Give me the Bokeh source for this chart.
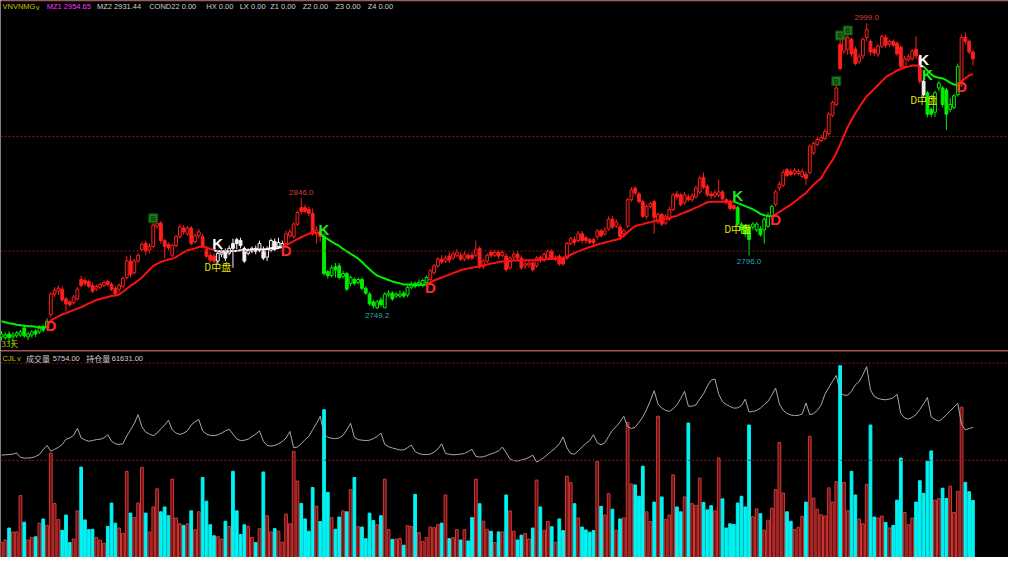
from bokeh.plotting import figure
from bokeh.layouts import column
from bokeh.models import Range1d, Span, ColumnDataSource
from bokeh.embed import file_html
from bokeh.resources import INLINE
from bokeh.core.properties import value

# ---------------- data ----------------
open_prices = [2724.9,2724.1,2727.5,2724.9,2725.8,2726.6,2732.6,2724.9,2726.6,2730.0,
2729.2,2733.4,2733.4,2744.5,2762.3,2764.9,2766.6,2758.1,2755.5,2754.7,
2758.1,2775.1,2774.2,2773.4,2769.9,2766.6,2768.3,2769.9,2773.4,2770.8,
2767.4,2766.6,2769.1,2776.8,2791.2,2781.0,2791.2,2801.4,2806.5,2800.6,
2804.0,2821.8,2824.4,2809.1,2805.7,2796.3,2804.8,2812.5,2820.1,2815.0,
2820.1,2808.2,2813.3,2812.5,2801.4,2796.3,2795.5,2791.2,2797.2,2799.7,
2798.0,2806.5,2809.9,2809.1,2802.3,2798.0,2799.7,2802.3,2800.6,2800.6,
2794.6,2800.6,2808.2,2804.0,2804.0,2806.5,2813.3,2812.5,2823.5,2837.9,
2837.9,2836.3,2832.9,2815.0,2816.7,2812.5,2781.9,2778.5,2786.1,2787.0,
2777.6,2780.2,2771.7,2775.1,2772.5,2775.1,2767.4,2762.3,2755.5,2750.4,
2757.2,2750.4,2761.5,2763.2,2760.6,2760.6,2763.2,2761.5,2768.3,2771.7,
2769.9,2769.9,2772.5,2775.1,2781.0,2787.0,2792.9,2791.2,2795.5,2793.8,
2796.3,2796.3,2792.9,2796.3,2796.3,2796.3,2802.3,2786.1,2791.2,2798.9,
2796.3,2798.9,2796.3,2795.5,2785.3,2794.6,2797.2,2793.8,2787.0,2787.8,
2789.5,2787.0,2794.6,2792.0,2793.8,2799.7,2792.9,2795.5,2793.8,2793.8,
2806.5,2809.9,2809.1,2815.0,2811.6,2809.9,2809.9,2812.5,2817.6,2815.0,
2819.3,2827.8,2821.8,2821.0,2815.0,2821.8,2844.8,2855.0,2849.9,2843.1,
2830.3,2838.8,2843.1,2825.2,2832.0,2824.4,2827.8,2836.3,2849.9,2849.0,
2842.2,2847.3,2844.8,2847.3,2851.6,2864.3,2856.7,2849.9,2848.2,2849.0,
2851.6,2844.8,2843.1,2839.7,2837.9,2823.5,2821.8,2821.0,2821.0,2818.4,
2819.3,2818.4,2821.8,2830.3,2840.5,2855.0,2857.5,2871.1,2869.4,2867.7,
2867.7,2865.2,2866.9,2868.6,2885.6,2893.2,2896.6,2898.3,2902.6,2918.7,
2928.1,2980.8,2974.8,2976.5,2985.0,2976.5,2965.5,2970.6,2986.7,2983.3,
2976.5,2972.3,2979.1,2986.7,2980.8,2983.3,2981.6,2978.2,2961.2,2967.2,
2968.0,2976.5,2969.7,2948.5,2938.3,2923.8,2921.3,2942.5,2942.5,2940.8,
2923.8,2925.5,2936.6,2945.1,2986.7,2983.3,2974.0]

high_prices = [2730.0,2729.2,2730.0,2729.2,2730.0,2730.9,2734.3,2729.2,2730.9,2731.7,
2735.1,2735.1,2741.1,2764.0,2768.3,2769.9,2769.1,2759.8,2757.2,2761.5,
2768.3,2778.5,2776.8,2775.1,2772.5,2770.8,2772.5,2774.2,2775.1,2772.5,
2769.1,2771.7,2777.6,2795.5,2796.3,2792.9,2798.0,2808.2,2809.1,2806.5,
2825.2,2826.9,2826.1,2810.8,2807.4,2806.5,2814.2,2823.5,2822.7,2821.8,
2821.8,2815.0,2819.3,2815.0,2804.0,2798.9,2798.0,2800.6,2801.4,2802.3,
2804.8,2810.8,2811.6,2811.6,2804.0,2802.3,2804.0,2804.8,2809.1,2804.0,
2804.0,2810.8,2810.8,2811.6,2809.1,2817.6,2819.3,2825.2,2835.4,2846.0,
2840.5,2838.8,2837.1,2821.8,2819.3,2815.0,2783.6,2787.8,2789.5,2789.5,
2782.7,2781.9,2778.5,2776.8,2776.8,2776.8,2769.1,2764.0,2757.2,2757.2,
2759.8,2764.0,2765.7,2764.9,2764.0,2765.7,2764.9,2769.9,2773.4,2773.4,
2775.1,2775.9,2778.5,2784.4,2788.7,2794.6,2796.3,2796.3,2798.9,2799.7,
2801.4,2798.9,2799.7,2798.0,2798.9,2809.1,2804.0,2792.9,2798.0,2800.6,
2801.4,2800.6,2800.6,2798.0,2795.5,2798.9,2799.7,2796.3,2791.2,2792.0,
2791.2,2795.5,2796.3,2798.9,2801.4,2801.4,2796.3,2797.2,2795.5,2808.2,
2812.5,2812.5,2817.6,2817.6,2813.3,2811.6,2811.6,2819.3,2819.3,2821.0,
2830.3,2830.3,2827.8,2823.5,2819.3,2846.5,2855.8,2856.7,2851.6,2844.8,
2840.5,2843.1,2844.8,2833.7,2833.7,2832.0,2838.8,2850.7,2852.4,2850.7,
2851.6,2849.9,2850.7,2857.5,2866.0,2868.6,2858.4,2852.4,2853.3,2862.6,
2853.3,2846.5,2844.8,2841.4,2839.7,2825.2,2823.5,2823.5,2825.2,2825.2,
2821.8,2829.5,2833.7,2840.5,2853.3,2860.9,2871.1,2872.8,2872.0,2872.8,
2872.0,2872.0,2869.4,2893.2,2895.8,2900.0,2901.7,2906.8,2921.3,2931.5,
2945.1,2985.0,2989.3,2989.3,2986.7,2979.1,2972.3,2986.7,2999.0,2985.0,
2978.2,2980.8,2989.3,2989.3,2985.0,2985.0,2983.3,2979.9,2970.6,2972.3,
2976.5,2987.6,2971.4,2950.2,2940.0,2925.5,2940.0,2948.5,2944.2,2942.5,
2934.0,2937.4,2963.8,2989.3,2991.0,2985.0,2975.7]

low_prices = [2721.5,2722.4,2719.8,2717.3,2724.1,2724.9,2724.1,2722.4,2724.1,2724.9,
2727.5,2729.2,2731.7,2741.9,2759.8,2761.5,2755.5,2747.0,2751.3,2753.0,
2756.4,2768.3,2769.1,2767.4,2763.2,2764.9,2766.6,2768.3,2769.1,2764.9,
2760.6,2764.0,2767.4,2775.1,2776.8,2779.3,2789.5,2798.9,2796.3,2798.0,
2802.3,2819.3,2806.5,2793.8,2800.6,2794.6,2803.1,2810.8,2814.2,2813.3,
2804.8,2806.5,2810.8,2802.3,2793.8,2789.5,2788.7,2788.7,2794.6,2791.2,
2796.3,2785.3,2801.4,2802.3,2789.5,2796.3,2798.0,2797.2,2798.9,2792.0,
2791.2,2798.9,2799.7,2802.3,2802.3,2804.8,2811.6,2810.8,2821.8,2832.0,
2832.9,2830.3,2813.3,2806.5,2808.2,2778.5,2775.9,2776.8,2776.8,2775.1,
2775.9,2764.9,2769.1,2769.9,2770.8,2765.7,2761.5,2752.1,2749.6,2749.2,
2751.3,2750.0,2759.8,2756.4,2758.9,2758.9,2758.9,2759.8,2766.6,2767.4,
2768.3,2768.3,2770.8,2773.4,2779.3,2785.3,2788.7,2789.5,2789.5,2792.0,
2794.6,2791.2,2791.2,2792.0,2792.0,2794.6,2784.4,2784.4,2789.5,2793.8,
2794.6,2792.9,2794.6,2781.9,2783.6,2792.0,2792.0,2783.6,2784.4,2785.3,
2781.9,2785.3,2789.5,2790.4,2792.0,2792.0,2791.2,2787.0,2787.0,2792.0,
2804.8,2804.8,2807.4,2806.5,2806.5,2805.7,2804.8,2809.9,2811.6,2813.3,
2817.6,2819.3,2820.1,2809.9,2811.6,2820.1,2843.1,2849.0,2841.4,2828.6,
2827.8,2837.1,2815.0,2823.5,2821.8,2822.7,2826.1,2834.6,2844.8,2838.8,
2840.5,2843.1,2843.1,2845.6,2849.9,2854.1,2847.3,2845.6,2846.5,2847.3,
2843.9,2840.5,2835.4,2835.4,2821.8,2815.0,2812.5,2796.0,2818.4,2816.7,
2812.5,2806.5,2820.1,2828.6,2838.8,2852.4,2855.8,2864.3,2865.2,2866.0,
2866.0,2863.5,2857.5,2866.9,2883.9,2891.5,2894.9,2896.6,2900.9,2917.0,
2926.4,2957.8,2972.3,2971.4,2969.7,2962.1,2963.8,2968.0,2983.3,2971.4,
2970.6,2969.7,2977.4,2977.4,2978.2,2978.2,2970.6,2959.5,2959.5,2965.5,
2966.3,2968.0,2945.9,2934.9,2917.0,2917.0,2917.0,2940.0,2925.5,2905.9,
2921.3,2923.8,2934.9,2943.4,2980.8,2972.3,2962.1]

close_prices = [2727.5,2726.6,2724.1,2726.6,2728.3,2729.2,2725.8,2727.5,2729.2,2727.5,
2732.6,2730.9,2738.5,2762.3,2765.7,2767.4,2757.2,2753.8,2753.0,2759.8,
2766.6,2769.9,2771.7,2769.1,2764.9,2769.1,2770.8,2772.5,2770.8,2766.6,
2762.3,2769.9,2775.9,2791.2,2779.3,2791.2,2796.3,2805.7,2799.7,2804.0,
2822.7,2824.4,2809.1,2804.0,2803.1,2804.8,2812.5,2821.0,2816.7,2820.1,
2806.5,2813.3,2816.7,2804.0,2795.5,2792.0,2791.2,2798.0,2798.9,2793.8,
2802.3,2802.3,2806.5,2804.8,2791.2,2800.6,2802.3,2799.7,2806.5,2793.8,
2801.4,2809.1,2801.4,2807.4,2806.5,2815.0,2816.7,2823.5,2833.7,2834.6,
2834.6,2832.9,2815.0,2818.4,2812.5,2780.2,2778.5,2785.3,2783.6,2776.8,
2780.2,2766.6,2776.8,2771.7,2775.1,2767.4,2763.2,2753.8,2752.1,2755.5,
2753.0,2762.3,2763.2,2758.1,2762.3,2762.3,2760.6,2768.3,2770.8,2769.1,
2772.5,2774.2,2776.8,2782.7,2787.0,2792.9,2790.4,2793.8,2792.0,2797.2,
2798.9,2792.9,2797.2,2793.8,2793.8,2801.4,2786.1,2791.2,2796.3,2796.3,
2798.9,2795.5,2798.9,2783.6,2793.8,2797.2,2793.8,2785.3,2788.7,2789.5,
2783.6,2793.8,2792.0,2797.2,2799.7,2793.8,2794.6,2788.7,2788.7,2806.5,
2810.8,2807.4,2815.0,2809.1,2809.1,2807.4,2807.4,2817.6,2813.3,2817.6,
2827.8,2821.0,2825.2,2812.5,2817.6,2844.8,2853.3,2850.7,2843.1,2830.3,
2838.8,2841.4,2829.5,2832.0,2823.5,2830.3,2836.3,2849.0,2847.3,2840.5,
2849.0,2844.8,2848.2,2855.0,2863.5,2855.8,2849.0,2848.2,2850.7,2851.6,
2845.6,2842.2,2837.1,2837.1,2823.5,2818.4,2815.0,2809.9,2823.5,2823.5,
2814.2,2827.8,2830.3,2838.8,2851.6,2858.4,2868.6,2866.0,2866.9,2870.3,
2869.4,2869.4,2863.5,2891.5,2894.1,2897.5,2899.2,2904.3,2919.6,2929.8,
2942.5,2959.5,2987.6,2986.7,2972.3,2963.8,2969.7,2985.0,2993.5,2974.0,
2973.1,2979.1,2987.6,2979.9,2983.3,2979.9,2972.3,2961.2,2968.0,2969.7,
2974.8,2970.6,2948.5,2936.6,2919.6,2919.6,2938.3,2946.8,2928.1,2919.6,
2928.1,2935.7,2961.2,2986.7,2983.3,2974.0,2968.0]

ma_line = [2738.5,2737.7,2736.8,2736.4,2735.5,2735.1,2734.7,2734.3,2734.3,2733.8,
2733.4,2733.4,2733.4,2739.4,2741.1,2742.8,2744.5,2745.7,2747.0,2748.3,
2749.6,2750.8,2752.5,2754.2,2755.5,2757.2,2758.1,2758.9,2759.8,2760.6,
2761.0,2761.9,2764.4,2767.0,2769.5,2771.7,2774.2,2776.8,2780.2,2783.6,
2787.0,2788.7,2790.4,2791.6,2792.5,2793.3,2794.6,2796.7,2798.9,2800.6,
2801.4,2802.3,2803.5,2804.0,2803.1,2801.8,2800.6,2799.7,2799.7,2799.7,
2799.7,2800.1,2800.1,2800.6,2800.6,2800.6,2801.0,2801.0,2801.4,2801.4,
2801.8,2802.3,2802.3,2802.7,2803.5,2805.2,2806.9,2808.6,2810.3,2812.0,
2813.7,2815.0,2815.9,2815.9,2815.0,2812.5,2810.3,2808.2,2806.1,2804.4,
2801.8,2799.7,2797.6,2795.5,2793.3,2790.4,2787.0,2784.0,2781.0,2778.5,
2777.2,2775.9,2774.6,2773.4,2772.5,2771.7,2770.8,2770.8,2770.4,2770.4,
2770.4,2770.4,2770.8,2772.5,2774.2,2775.5,2776.8,2778.0,2779.3,2780.6,
2781.9,2783.1,2784.0,2784.8,2785.3,2786.1,2786.5,2787.4,2788.2,2789.1,
2789.5,2790.4,2790.8,2791.2,2791.2,2791.6,2791.6,2791.6,2792.0,2792.0,
2792.0,2792.0,2792.5,2792.5,2792.9,2792.9,2793.3,2793.3,2793.8,2795.0,
2796.7,2798.4,2799.7,2801.0,2802.3,2803.5,2804.4,2805.7,2806.5,2807.4,
2808.2,2809.1,2809.9,2810.8,2813.3,2816.3,2819.3,2821.8,2822.7,2823.5,
2824.4,2825.2,2826.1,2826.9,2827.8,2828.2,2829.0,2829.9,2830.7,2832.4,
2833.7,2835.0,2836.3,2837.9,2839.2,2840.9,2842.6,2843.1,2843.1,2843.1,
2843.1,2843.1,2843.1,2843.1,2841.8,2840.5,2839.2,2837.9,2836.3,2834.6,
2832.4,2831.2,2830.7,2830.3,2832.0,2834.1,2836.3,2838.4,2840.5,2843.1,
2845.6,2848.2,2850.7,2854.5,2857.9,2860.9,2863.5,2869.4,2874.5,2879.6,
2885.6,2893.2,2900.9,2908.5,2914.5,2920.4,2925.5,2930.6,2935.3,2938.3,
2941.7,2945.1,2948.5,2951.9,2954.0,2955.7,2957.8,2959.1,2960.4,2961.2,
2962.1,2962.1,2962.1,2961.2,2957.8,2954.4,2952.3,2951.4,2951.0,2949.3,
2947.2,2945.5,2945.1,2948.5,2951.0,2953.5,2954.65]

volume = [1537,1766,2976,2583,2583,6246,3564,1766,2027,2093,
3466,3891,3237,10529,5461,3826,2747,4284,1504,1864,
4709,9123,3793,2812,2845,2027,1766,1439,3139,5494,
3466,2976,2420,8698,4480,4022,5494,9091,4480,2583,
5101,6932,4611,5101,4218,7913,3989,3401,3237,3401,
4709,2812,4611,8077,5690,3303,2191,2093,1864,3662,
3139,8698,4709,2322,3303,3139,2027,1504,2910,8633,
4218,2583,2910,2649,1537,4382,3401,10693,7717,5461,
3891,2649,7063,5167,3630,14911,6573,4022,2845,4088,
4709,4611,6834,8077,3107,3074,1897,4480,3728,3303,
4218,7913,2812,1831,1864,1929,1243,3205,3139,6377,
2518,1602,2027,3074,3008,3303,3466,6311,1897,1995,
2812,1766,2812,1668,4022,7913,5428,3662,2845,2649,
1504,2583,2583,
6311,4709,2649,1766,2256,2420,1864,2976,7815,5101,
2747,3630,3107,1537,3891,2714,8208,7554,5428,3989,
3074,2780,2551,2714,9679,5167,4284,6442,4872,2747,
3891,3989,13636,7423,7325,6180,9221,4611,3630,5592,
14257,6115,3826,4284,8339,5101,4611,6115,13571,5428,
5265,8012,5559,4807,5232,4709,10039,5919,2976,3401,
3335,5494,6180,5101,13374,4120,4905,4415,2747,3761,
4970,6867,11609,6507,4611,3662,2812,3041,4153,5592,
12230,5984,4872,4316,4186,7031,5592,7652,19358,7586,
4709,8698,6311,3891,3401,7390,13374,4088,3989,4186,
3532,2976,3237,5788,10039,4545,3303,3989,5592,7750,
6475,9712,10758,5788,5951,6998,5951,7194,4545,6671,
15173,7586,6638,5754]

open_interest = [59051,59081,59111,59141,59261,58841,58781,58781,58811,58931,
59111,59561,59951,59411,59591,59771,60041,60521,60641,60881,
61541,60641,60461,60341,60401,60491,60521,60641,60941,60341,
60101,60041,60101,60821,61391,61991,62801,61691,61181,61001,
60851,61091,61481,61841,62291,61391,61091,60971,61091,61301,
61841,62141,62351,61301,61001,60881,60851,60941,61091,61301,
61451,61001,60551,60401,60431,60521,60761,61001,61301,60341,
59951,59891,59951,60101,60311,60641,61241,59741,59801,60101,
60491,60791,61391,61991,62651,61001,60701,60611,60581,60641,
60881,61391,61991,60701,60491,60431,60401,60431,60581,60791,
61091,60041,59831,59711,59621,59531,59531,59741,59981,59381,
59201,59111,59111,59141,59321,59621,60101,59201,59141,59081,
59111,59141,59201,59381,59591,58931,58871,58901,59021,59171,
59291,59441,59801,59291,58691,58541,58511,58601,58691,58841,
59051,58421,58601,58841,59141,59441,59711,60101,60731,59741,
59201,59141,59441,59801,60131,60401,60941,60191,60011,60191,
60791,61361,61691,62141,62651,61691,61511,61631,62081,62591,
63281,64091,65021,63791,63401,63191,63101,63341,63701,64301,
64961,63581,63581,63701,64241,64721,65441,65981,66101,64691,
64001,63731,63551,63401,63431,63641,64241,63041,63101,63191,
63401,63731,64031,64601,65261,63791,63191,62921,62771,62711,
62741,62861,63881,62801,62891,63191,63701,64691,65291,65891,
66431,64841,64601,64601,64961,65561,65861,66491,67241,65081,
64481,64301,64211,64181,64241,64361,64691,62891,62501,62381,
62561,62801,63281,63791,64391,62591,62351,62201,62441,62801,
63161,63491,63851,61901,61391,61511,61631]

# signals of the indicator (bar index, label, regime colour that follows)
signal_idx = [13, 57, 75, 85, 113, 194, 204, 243, 244, 253]
signal_txt = ["D", "K", "D", "K", "D", "K", "D", "K", "K", "D"]
signal_reg = ["red", "white", "red", "green", "red", "green", "red", "white", "green", "red"]
midplate_idx = [57, 194, 243]            # "D中盘" notes
extreme_idx = [79, 99, 197, 228]
extreme_kind = ["high", "low", "low", "high"]
badge_idx = [40, 220, 221, 223]

header_items = [("VNVNMG", "#c4c400"), ("MZ1 2954.65", "#ff30ff"),
                ("MZ2 2931.44", "#d0d0d0"), ("COND22 0.00", "#d0d0d0"),
                ("HX 0.00", "#d0d0d0"), ("LX 0.00", "#d0d0d0"),
                ("Z1 0.00", "#d0d0d0"), ("Z2 0.00", "#d0d0d0"),
                ("Z3 0.00", "#d0d0d0"), ("Z4 0.00", "#d0d0d0")]
header_px = [2, 47, 98, 151, 209, 243, 274, 307, 340, 373]

# ---------------- layout helpers (reference pixel -> data) ----------------
W, H_MAIN, H_VOL = 1008, 350, 207
BAR_PX = 3.855
X0 = -1.0 / BAR_PX
def X(px):
    return px / BAR_PX + X0
def PY(py):                       # main panel, reference pixel y -> price
    return 3019.0 - 0.85 * py
def VY(py):                       # volume panel, reference pixel y -> volume
    return (573 - py) * 98.1

N = len(close_prices)
xs = list(range(N))
REG = {"red": "#ff1e1e", "green": "#00ee00", "white": "#f4f4f4"}
MA_COL = {"red": "#ff1010", "green": "#00f000", "white": "#ffffff"}

regime = []
cur = "green"
sigmap = dict(zip(signal_idx, signal_reg))
for i in range(N):
    if i in sigmap:
        cur = sigmap[i]
    regime.append(cur)

xr = Range1d(X0, 1024 / BAR_PX + X0)

# ---------------- main (price) panel ----------------
p = figure(width=W, height=H_MAIN, x_range=xr, y_range=Range1d(PY(360), PY(0)),
           output_backend="svg", toolbar_location=None, x_axis_location=None, y_axis_location=None,
           background_fill_color="black", border_fill_color="black", min_border=0,
           outline_line_color=None)
p.grid.visible = False

for lvl in (2900, 2800):
    p.add_layout(Span(location=lvl, dimension="width", line_color="#8a1a1a",
                      line_dash="2 2", line_width=1))
p.add_layout(Span(location=PY(0.6), dimension="width", line_color="#7a1818", line_width=1))

cols = [REG[r] for r in regime]
up = [c >= o for o, c in zip(open_prices, close_prices)]
cs = ColumnDataSource(dict(
    x=xs, hi=high_prices, lo=low_prices,
    top=[max(o, c) for o, c in zip(open_prices, close_prices)],
    bot=[min(o, c) for o, c in zip(open_prices, close_prices)],
    col=cols, fill=["#000000" if u else c for u, c in zip(up, cols)]))
p.segment(x0="x", y0="lo", x1="x", y1="hi", line_color="col", line_width=1, source=cs)
p.vbar(x="x", width=0.74, top="top", bottom="bot", fill_color="fill", line_color="col",
       line_width=1, source=cs)

# moving line, coloured by regime
seg_x, seg_y, seg_c = [], [], []
start = 0
for i in range(1, N + 1):
    if i == N or regime[i] != regime[start]:
        s = start - 1 if start > 0 else start
        seg_x.append(xs[s:i])
        seg_y.append(ma_line[s:i])
        seg_c.append(MA_COL[regime[start]])
        start = i
p.multi_line(xs=seg_x, ys=seg_y, line_color=seg_c, line_width=2)

# badges
bx = [i for i in badge_idx]
by = [high_prices[i] + 3.4 for i in badge_idx]
p.scatter(bx, by, marker="square", size=9, fill_color="#1f7a1f", line_color="#0e4a0e")
p.text(bx, by, text=["B"] * len(bx), text_font=value("Liberation Sans"), text_font_size="7px",
       text_font_style="bold", text_color="#0b3a0b", text_align="center", text_baseline="middle")

# K / D signal labels
ly, lc = [], []
for k, i in enumerate(signal_idx):
    if signal_txt[k] == "D":
        ly.append(ma_line[i] - 4.5)
        lc.append("#ff2a2a")
    else:
        if k > 0 and signal_idx[k - 1] == i - 1 and signal_txt[k - 1] == "K":
            ly.append(ma_line[i] - 3.5)
        else:
            ly.append(ma_line[i] + 6.5)
        lc.append("#ffffff" if signal_reg[k] == "white" else "#22e822")
p.text(signal_idx, ly, text=signal_txt, text_color=lc, text_font=value("Liberation Sans"),
       text_font_size="15px", text_font_style="bold", text_align="center", text_baseline="middle")

# D中盘 notes
p.text(midplate_idx, [low_prices[i] - 2.5 for i in midplate_idx], text=["D中盘"] * len(midplate_idx),
       text_color="#e6e600", text_font=value("Noto Sans CJK SC"), text_font_size="10px",
       text_align="center", text_baseline="middle")

# extreme price labels
ex_y, ex_t, ex_c = [], [], []
for i, kind in zip(extreme_idx, extreme_kind):
    if kind == "high":
        ex_y.append(high_prices[i] + 5.5); ex_t.append(f"{high_prices[i]:.1f}"); ex_c.append("#d43c3c")
    else:
        ex_y.append(low_prices[i] - 5.5); ex_t.append(f"{low_prices[i]:.1f}"); ex_c.append("#2aa8b8")
p.text(extreme_idx, ex_y, text=ex_t, text_color=ex_c, text_font=value("Liberation Sans"),
       text_font_size="8px", text_align="center", text_baseline="middle")

p.text([X(1)], [PY(352.5)], text=["33天"], text_color="#c0c000", text_font=value("Noto Sans CJK SC"),
       text_font_size="8px", text_align="left", text_baseline="middle")

# header
p.text([X(v) for v in header_px], [PY(6.5)] * len(header_px), text=[t for t, c in header_items],
       text_color=[c for t, c in header_items], text_font=value("Liberation Sans"),
       text_font_size="7.5px", text_align="left", text_baseline="middle")
p.text([X(36)], [PY(7)], text=["v"], text_color="#c4c400", text_font=value("Liberation Sans"),
       text_font_size="7px", text_align="left", text_baseline="middle")

# ---------------- volume / open interest panel ----------------
v = figure(width=W, height=H_VOL, x_range=xr, y_range=Range1d(0, VY(360)),
           output_backend="svg", toolbar_location=None, x_axis_location=None, y_axis_location=None,
           background_fill_color="black", border_fill_color="black", min_border=0,
           outline_line_color=None)
v.grid.visible = False
v.extra_y_ranges = {"oi": Range1d(67841 - 90 * 203, 67841 + 90 * 10)}

v.add_layout(Span(location=VY(360.8), dimension="width", line_color="#7a1818", line_width=1.5))
for yy in (373, 473):
    v.add_layout(Span(location=VY(yy), dimension="width", line_color="#8a1a1a",
                      line_dash="2 2", line_width=1))

vs = ColumnDataSource(dict(
    x=xs, vol=volume,
    fill=["#6a1212" if u else "#00f2f2" for u in up],
    line=["#d43838" if u else "#00f2f2" for u in up]))
v.vbar(x="x", width=0.72, top="vol", bottom=0, fill_color="fill", line_color="line",
       line_width=1, source=vs)
v.line(xs, open_interest, y_range_name="oi", line_color="#a8a8a8", line_width=1)

v.text([X(2)], [VY(368)], text=["CJL"], text_color="#c4c400", text_font=value("Liberation Sans"),
       text_font_size="7.5px", text_align="left", text_baseline="middle")
v.text([X(17)], [VY(368.5)], text=["v"], text_color="#c4c400", text_font=value("Liberation Sans"),
       text_font_size="7px", text_align="left", text_baseline="middle")
v.text([X(26), X(87)], [VY(368)] * 2, text=["成交量", "持仓量"], text_color="#d0d0d0",
       text_font=value("Noto Sans CJK SC"), text_font_size="8px", text_align="left",
       text_baseline="middle")
v.text([X(53), X(113)], [VY(368)] * 2,
       text=[f"{volume[-1]:.2f}", f"{open_interest[-1]:.2f}"], text_color="#d0d0d0",
       text_font=value("Liberation Sans"), text_font_size="7.5px", text_align="left",
       text_baseline="middle")

layout = column(p, v, spacing=0)
open("out.html", "w").write(file_html(layout, INLINE))
